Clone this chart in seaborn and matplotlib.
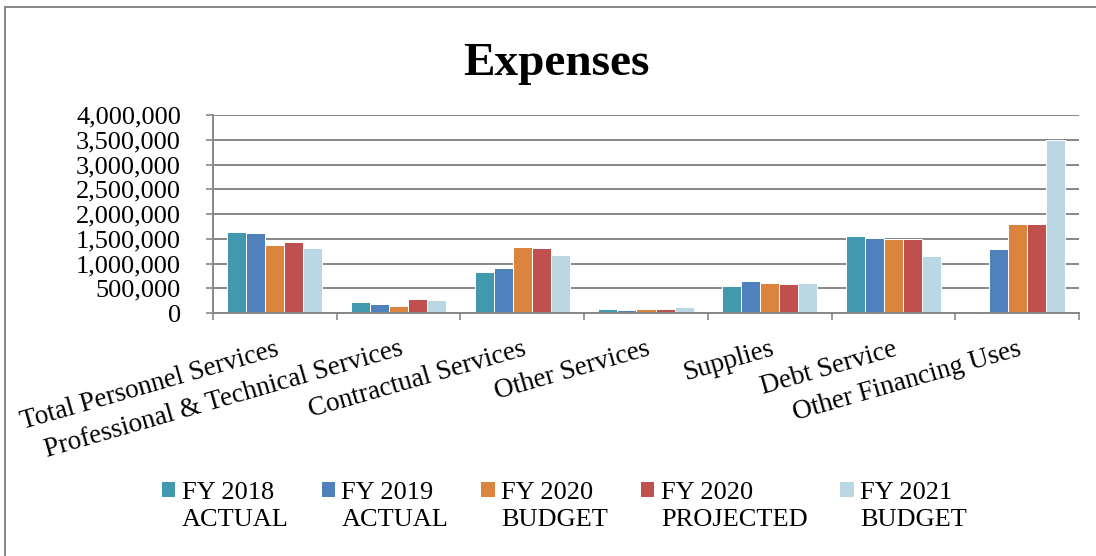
import matplotlib
matplotlib.use("Agg")
import matplotlib.pyplot as plt
from matplotlib.patches import Rectangle
from matplotlib.legend_handler import HandlerPatch
from matplotlib.ticker import FixedLocator, FuncFormatter
import seaborn as sns
import pandas as pd

# Expense categories and yearly figures
categories = [
    "Total Personnel Services",
    "Professional & Technical Services",
    "Contractual Services",
    "Other Services",
    "Supplies",
    "Debt Service",
    "Other Financing Uses",
]
series_names = [
    "FY 2018\nACTUAL",
    "FY 2019\nACTUAL",
    "FY 2020\nBUDGET",
    "FY 2020\nPROJECTED",
    "FY 2021\nBUDGET",
]
fy2018_actual = [1633000, 229000, 823000, 74000, 553000, 1552000, 30000]
fy2019_actual = [1620000, 175000, 911000, 61000, 648000, 1518000, 1289000]
fy2020_budget = [1370000, 135000, 1329000, 74000, 600000, 1498000, 1795000]
fy2020_projected = [1444000, 277000, 1309000, 74000, 587000, 1498000, 1795000]
fy2021_budget = [1309000, 256000, 1181000, 115000, 600000, 1154000, 3495000]
colors = ["#4198AF", "#4F81BD", "#DB843D", "#C0504D", "#BAD7E3"]

values = [fy2018_actual, fy2019_actual, fy2020_budget, fy2020_projected, fy2021_budget]
rows = []
for name, vals in zip(series_names, values):
    for cat, v in zip(categories, vals):
        rows.append({"category": cat, "series": name, "value": v})
df = pd.DataFrame(rows)

plt.rcParams["font.family"] = ["Liberation Serif", "DejaVu Serif"]
GRAY = "#878787"

W, H = 1096, 556
fig = plt.figure(figsize=(W / 100, H / 100), dpi=100)
ax = fig.add_axes([213 / W, 1 - 313 / H, (1079 - 213) / W, (313 - 115) / H])

sns.barplot(
    data=df, x="category", y="value", hue="series", order=categories,
    hue_order=series_names, palette=colors, saturation=1, width=0.77,
    edgecolor="white", linewidth=0.7, ax=ax, legend=False,
)

ax.set_xlim(-0.5, len(categories) - 0.5)
ax.set_ylim(0, 4000000)
ax.set_xlabel("")
ax.set_ylabel("")

# y axis: gridlines every 500,000 with comma-formatted labels
ax.yaxis.set_major_locator(FixedLocator(range(0, 4000001, 500000)))
ax.yaxis.set_major_formatter(FuncFormatter(lambda v, p: f"{v:,.0f}"))
ax.grid(axis="y", color=GRAY, linewidth=1.4)
ax.set_axisbelow(True)
ax.tick_params(axis="y", length=5, width=1.2, color=GRAY, pad=18, labelsize=19)

# x axis: tick marks between groups, labels at group centres
ax.set_xticks([i - 0.5 for i in range(len(categories) + 1)])
ax.set_xticklabels([])
ax.set_xticks(range(len(categories)), minor=True)
ax.set_xticklabels(categories, minor=True, rotation=16, ha="right",
                   va="top", rotation_mode="anchor", fontsize=19.5)
ax.tick_params(axis="x", which="major", length=5, width=1.2, color=GRAY)
ax.tick_params(axis="x", which="minor", length=0, pad=17)

for side in ("top", "right"):
    ax.spines[side].set_visible(False)
for side in ("left", "bottom"):
    ax.spines[side].set_color(GRAY)
    ax.spines[side].set_linewidth(1.4)

fig.text(556 / W, 1 - 75 / H, "Expenses", ha="center", va="baseline",
         fontsize=34, fontweight="bold")


def square_at_first_line(legend, orig_handle, xdescent, ydescent, width, height, fontsize):
    return Rectangle((-xdescent, -ydescent + 0.62 * fontsize), width, height)


handles = [Rectangle((0, 0), 1, 1, facecolor=c, edgecolor="none") for c in colors]
leg = fig.legend(
    handles, series_names, loc="upper left", bbox_to_anchor=(162 / W, 1 - 482 / H),
    ncol=5, frameon=False, fontsize=19, handlelength=0.5, handleheight=0.5,
    handletextpad=0.25, columnspacing=1.25, borderpad=0, borderaxespad=0,
    handler_map={Rectangle: HandlerPatch(patch_func=square_at_first_line)},
)
for t in leg.get_texts():
    t.set_linespacing(1.3)

# outer chart border
fig.add_artist(Rectangle((5 / W, -0.05), 1.2, 1.05 - 7 / H, transform=fig.transFigure,
                         facecolor="none", edgecolor=GRAY, linewidth=1.4))

fig.savefig("out.png", dpi=100)
